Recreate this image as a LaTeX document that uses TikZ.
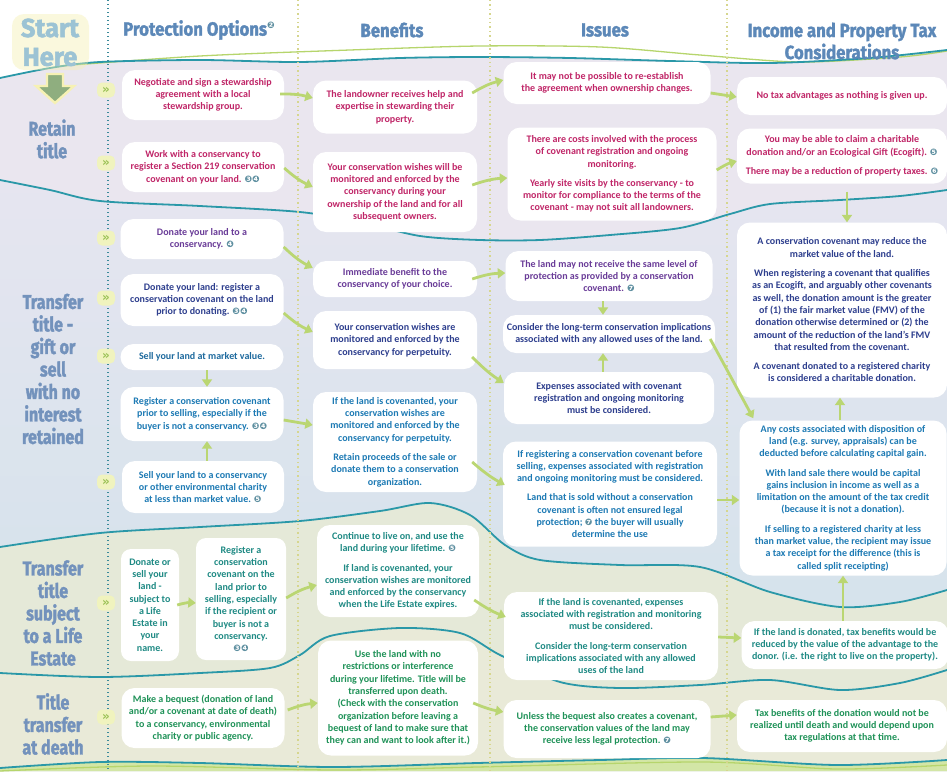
\documentclass[tikz,border=0pt]{standalone}
\usepackage{fontspec}
\setmainfont{Carlito}
\newfontfamily\headfont[FakeStretch=0.88,FakeBold=1.6]{Fira Sans}
\newfontfamily\rowfont[FakeStretch=0.8,FakeBold=1.6]{Fira Sans}
\newfontfamily\startfont[FakeStretch=0.98,FakeBold=2]{Fira Sans}
\newfontfamily\symfont{DejaVu Sans}
\usetikzlibrary{arrows.meta,calc}
\definecolor{retc}{HTML}{EAE6EF}
\definecolor{trtop}{HTML}{E6E5F0}
\definecolor{trbot}{HTML}{CFE2EA}
\definecolor{lifec}{HTML}{E5E9D8}
\definecolor{deathc}{HTML}{E9EAD8}
\definecolor{botc}{HTML}{D3E6A6}
\definecolor{wavec}{HTML}{2A98A8}
\definecolor{greenl}{HTML}{B6D56C}
\definecolor{arrowc}{HTML}{BAD672}
\definecolor{headc}{HTML}{5C88B8}
\definecolor{rowc}{HTML}{7392BC}
\definecolor{startc}{HTML}{9CC3D4}
\definecolor{glowc}{HTML}{F6F1B4}
\definecolor{startarrow}{HTML}{8FAE7F}
\definecolor{cnc}{HTML}{5E8FA0}
\definecolor{cret}{HTML}{C02668}
\definecolor{cpur}{HTML}{6A3C98}
\definecolor{cnavy}{HTML}{2E3F8E}
\definecolor{cmid}{HTML}{1E6A9E}
\definecolor{cblue}{HTML}{1D7AB4}
\definecolor{clife}{HTML}{1F8A84}
\definecolor{cdeath}{HTML}{1F9258}
\definecolor{markbg}{HTML}{F0F3BE}
\definecolor{markc}{HTML}{9CC257}
\definecolor{dotc}{HTML}{D6D68E}
\definecolor{tdotc}{HTML}{3A8A9A}
\newcommand\bodyfs{\fontsize{10}{12.3}\selectfont}
\newcommand\cn[1]{{\symfont\fontsize{9}{9}\selectfont\color{cnc}#1}}
\newcommand\gap{\\[7pt]}
\tikzset{
  box/.style 2 args={fill=white, rounded corners=13pt, inner sep=0pt, align=center,
    font=\bodyfs\bfseries, minimum width=#1pt, minimum height=#2pt},
  garrow/.style={draw=arrowc, line width=2.8pt, -{Triangle[width=10pt,length=7.5pt]}},
  mk/.style={fill=markbg, rounded corners=5pt, minimum width=18pt, minimum height=15pt,
    inner sep=0pt, text=markc, font=\symfont\bfseries\fontsize{12}{12}\selectfont},
  wave/.style={draw=wavec, line width=1.8pt},
  gwave/.style={draw=greenl, line width=1.3pt},
  colhead/.style={text=headc, font=\headfont\bfseries\fontsize{19}{22}\selectfont, align=center, inner sep=0pt},
  rowlab/.style={text=rowc, font=\rowfont\bfseries\fontsize{20}{22.5}\selectfont, align=center, inner sep=0pt},
  startlab/.style={text=startc, font=\startfont\bfseries\fontsize{26}{26}\selectfont, inner sep=0pt},
}
\begin{document}
\begin{tikzpicture}[x=1pt,y=-1pt]
\useasboundingbox (0,0) rectangle (947,771);
\fill[white] (0,0) rectangle (947,771);
% ---------- bands ----------
\fill[retc] plot[smooth] coordinates {(0,78) (50,68) (100,62) (200,60) (300,62) (400,58) (480,57) (570,58) (670,61) (770,63) (870,58) (947,50)} -- (947,771) -- (0,771) -- cycle;
\shade[top color=trtop, bottom color=trbot] plot[smooth] coordinates {(0,180) (50,190) (100,201) (200,206) (300,212) (360,222) (420,236) (480,240) (540,240) (610,235) (680,228) (730,214) (770,204) (840,200) (900,196) (947,190)} -- (947,771) -- (0,771) -- cycle;
\fill[lifec] plot[smooth] coordinates {(0,547) (100,533) (200,527) (300,521) (380,511) (430,503) (470,515) (505,545) (540,560) (620,565) (700,567) (770,592) (840,607) (900,602) (947,590)} -- (947,771) -- (0,771) -- cycle;
\fill[deathc] plot[smooth] coordinates {(0,673) (100,677) (200,673) (270,668) (300,655) (330,636) (400,628) (460,633) (500,655) (560,682) (620,688) (700,685) (770,680) (840,690) (900,683) (947,670)} -- (947,771) -- (0,771) -- cycle;
\fill[botc] plot[smooth] coordinates {(0,768) (100,762) (200,763) (333,767) (477,763) (600,760) (703,758) (837,765) (947,760)} -- (947,771) -- (0,771) -- cycle;
% ---------- wavy lines ----------
\draw[gwave] plot[smooth] coordinates {(60,66) (200,56) (350,50) (480,46) (600,47) (700,55) (800,62) (900,57) (947,51)};
\draw[wave] plot[smooth] coordinates {(0,78) (50,68) (100,62) (200,60) (300,62) (400,58) (480,57) (570,58) (670,61) (770,63) (870,58) (947,50)};
\draw[wave] plot[smooth] coordinates {(0,180) (50,190) (100,201) (200,206) (300,212) (360,222) (420,236) (480,240) (540,240) (610,235) (680,228) (730,214) (770,204) (840,200) (900,196) (947,190)};
\draw[wave] plot[smooth] coordinates {(0,547) (100,533) (200,527) (300,521) (380,511) (430,503) (470,515) (505,545) (540,560) (620,565) (700,567) (770,592) (840,607) (900,602) (947,590)};
\draw[wave] plot[smooth] coordinates {(0,673) (100,677) (200,673) (270,668) (300,655) (330,636) (400,628) (460,633) (500,655) (560,682) (620,688) (700,685) (770,680) (840,690) (900,683) (947,670)};
\draw[wave] plot[smooth] coordinates {(0,768) (100,762) (200,763) (333,767) (477,763) (600,760) (703,758) (837,765) (947,760)};
\draw[gwave] plot[smooth] coordinates {(0,771) (150,766) (333,770) (477,767) (703,762) (837,769) (947,765)};
% ---------- column dividers ----------
\draw[tdotc, line width=1.6pt, dash pattern=on 1.4pt off 2.6pt] (108,0) -- (108,771);
\foreach \xx in {298,490,727} \draw[dotc, line width=1.3pt, dash pattern=on 1.4pt off 3pt] (\xx,0) -- (\xx,771);
% ---------- headers ----------
\fill[glowc, opacity=0.45, rounded corners=12pt] (12,14) rectangle (89,70);
\node[startlab] (start) at (50,28) {Start};
\node[startlab] (here) at (50,57) {Here};
\fill[fill=startarrow, draw=glowc, line width=2.4pt] (47,74) -- (63,74) -- (63,86) -- (74,86) -- (55,103) -- (36,86) -- (47,86) -- cycle;
\node[colhead] (hpo) at (199,30) {Protection Options\raisebox{7pt}{\cn{❷}}};
\node[colhead] (hbe) at (392,30) {Benefits};
\node[colhead] (his) at (605,30) {Issues};
\node[colhead] (hin) at (842,41) {Income and Property Tax\\Considerations};
% ---------- row labels ----------
\node[rowlab] (r1) at (52,139) {Retain\\title};
\node[rowlab] (r2) at (53,369) {Transfer\\title -\\gift or\\sell\\with no\\interest\\retained};
\node[rowlab] (r3) at (53,613) {Transfer\\title\\subject\\to a Life\\Estate};
\node[rowlab] (r4) at (53,724) {Title\\transfer\\at death};
% ---------- markers ----------
\foreach \n/\yy in {1/90,2/163,3/238,4/298,5/356,6/482,7/603,8/717}
  \node[mk] (m\n) at (106,\yy) {»};
% ---------- Retain title ----------
\node[box={162}{50}, text=cret] (P1) at (203,95) {Negotiate and sign a stewardship\\agreement with a local\\stewardship group.};
\node[box={164}{53}, text=cret] (B1) at (395,107) {The landowner receives help and\\expertise in stewarding their\\property.};
\node[box={207}{42}, text=cret] (I1) at (607,83) {It may not be possible to re-establish\\the agreement when ownership changes.};
\node[box={210}{38}, text=cret] (T1) at (842,96) {No tax advantages as nothing is given up.};
\node[box={162}{50}, text=cret] (P2) at (203,167) {Work with a conservancy to\\register a Section 219 conservation\\covenant on your land. \cn{❸❹}};
\node[box={164}{80}, text=cret] (B2) at (395,192) {Your conservation wishes will be\\monitored and enforced by the\\conservancy during your\\ownership of the land and for all\\subsequent owners.};
\node[box={209}{93}, text=cret] (I2) at (612,174) {There are costs involved with the process\\of covenant registration and ongoing\\monitoring.\gap Yearly site visits by the conservancy - to\\monitor for compliance to the terms of the\\covenant - may not suit all landowners.};
\node[box={210}{55}, text=cret] (T2) at (842,156) {You may be able to claim a charitable\\donation and/or an Ecological Gift (Ecogift). \cn{❺}\gap There may be a reduction of property taxes. \cn{❻}};
% ---------- Transfer title ----------
\node[box={163}{40}, text=cpur] (P3) at (202,239) {Donate your land to a\\conservancy. \cn{❹}};
\node[box={164}{36}, text=cpur] (B3) at (395,279) {Immediate benefit to the\\conservancy of your choice.};
\node[box={207}{50}, text=cpur] (I3) at (609,276) {The land may not receive the same level of\\protection as provided by a conservation\\covenant. \cn{❼}};
\node[box={210}{175}, text=cnavy] (T3) at (842,310) {A conservation covenant may reduce the\\market value of the land.\gap When registering a covenant that qualifies\\as an Ecogift, and arguably other covenants\\as well, the donation amount is the greater\\of (1) the fair market value (FMV) of the\\donation otherwise determined or (2) the\\amount of the reduction of the land's FMV\\that resulted from the covenant.\gap A covenant donated to a registered charity\\is considered a charitable donation.};
\node[box={163}{52}, text=cnavy] (P4) at (202,300) {Donate your land: register a\\conservation covenant on the land\\prior to donating. \cn{❸❹}};
\node[box={164}{58}, text=cnavy] (B4) at (395,340) {Your conservation wishes are\\monitored and enforced by the\\conservancy for perpetuity.};
\node[box={212}{38}, text=cnavy] (I4) at (609,334) {Consider the long-term conservation implications\\associated with any allowed uses of the land.};
\node[box={163}{26}, text=cmid] (P5) at (202,357) {Sell your land at market value.};
\node[box={210}{52}, text=cnavy] (I5) at (609,398) {Expenses associated with covenant\\registration and ongoing monitoring\\must be considered.};
\node[box={163}{54}, text=cblue] (P6) at (202,414) {Register a conservation covenant\\prior to selling, especially if the\\buyer is not a conservancy. \cn{❸❹}};
\node[box={164}{100}, text=cblue] (B5) at (395,442) {If the land is covenanted, your\\conservation wishes are\\monitored and enforced by the\\conservancy for perpetuity.\gap Retain proceeds of the sale or\\donate them to a conservation\\organization.};
\node[box={214}{105}, text=cblue] (I6) at (610,494) {If registering a conservation covenant before\\selling, expenses associated with registration\\and ongoing monitoring must be considered.\gap Land that is sold without a conservation\\covenant is often not ensured legal\\protection; \cn{❼} the buyer will usually\\determine the use};
\node[box={207}{155}, text=cblue] (T4) at (843,498) {Any costs associated with disposition of\\land (e.g. survey, appraisals) can be\\deducted before calculating capital gain.\gap With land sale there would be capital\\gains inclusion in income as well as a\\limitation on the amount of the tax credit\\(because it is not a donation).\gap If selling to a registered charity at less\\than market value, the recipient may issue\\a tax receipt for the difference (this is\\called split receipting)};
\node[box={162}{52}, text=cblue] (P7) at (203,487) {Sell your land to a conservancy\\or other environmental charity\\at less than market value. \cn{❺}};
% ---------- Life Estate ----------
\node[box={58}{112}, text=clife, rounded corners=10pt] (P8) at (150,605) {Donate or\\sell your\\land -\\subject to\\a Life\\Estate in\\your\\name.};
\node[box={90}{122}, text=clife, rounded corners=10pt] (P9) at (241,599) {Register a\\conservation\\covenant on the\\land prior to\\selling, especially\\if the recipient or\\buyer is not a\\conservancy.\\\cn{❸❹}};
\node[box={162}{92}, text=clife] (B6) at (398,571) {Continue to live on, and use the\\land during your lifetime. \cn{❺}\gap If land is covenanted, your\\conservation wishes are monitored\\and enforced by the conservancy\\when the Life Estate expires.};
\node[box={214}{88}, text=clife] (I7) at (611,636) {If the land is covenanted, expenses\\associated with registration and monitoring\\must be considered.\gap Consider the long-term conservation\\implications associated with any allowed\\uses of the land};
\node[box={207}{48}, text=clife] (T5) at (845,645) {If the land is donated, tax benefits would be\\reduced by the value of the advantage to the\\donor. (i.e. the right to live on the property).};
% ---------- Title transfer at death ----------
\node[box={163}{60}, text=cdeath] (P10) at (203,718) {Make a bequest (donation of land\\and/or a covenant at date of death)\\to a conservancy, environmental\\charity or public agency.};
\node[box={160}{115}, text=cdeath] (B7) at (398,698) {Use the land with no\\restrictions or interference\\during your lifetime. Title will be\\transferred upon death.\\(Check with the conservation\\organization before leaving a\\bequest of land to make sure that\\they can and want to look after it.)};
\node[box={207}{58}, text=cdeath] (I8) at (607,729) {Unless the bequest also creates a covenant,\\the conservation values of the land may\\receive less legal protection. \cn{❼}};
\node[box={210}{52}, text=cdeath] (T6) at (842,726) {Tax benefits of the donation would not be\\realized until death and would depend upon\\tax regulations at that time.};
% ---------- connectors ----------
\draw[garrow] ($(P1.east)+(-4,-1)$) to[bend left=8] ($(B1.west)+(0,-9)$);
\draw[garrow] ($(B1.east)+(-5,-14)$) to[bend left=8] ($(I1.west)+(0,-3)$);
\draw[garrow] ($(I1.east)+(0,10)$) -- ($(T1.west)+(0,1)$);
\draw[garrow] ($(P2.east)+(0,1)$) to[bend right=8] ($(B2.west)+(0,-5)$);
\draw[garrow] ($(B2.east)+(-5,-7)$) to[bend left=8] ($(I2.west)+(0,4)$);
\draw[garrow] ($(I2.east)+(0,-4)$) to[bend left=8] ($(T2.west)+(0,5)$);
\draw[garrow] ($(T2.south)+(5,8)$) -- ($(T3.north)+(5,0)$);
\draw[garrow] ($(P3.east)+(0,8)$) to[bend right=8] ($(B3.west)+(0,-11)$);
\draw[garrow] ($(P4.east)+(0,13)$) to[bend right=8] ($(B4.west)+(0,-8)$);
\draw[garrow] ($(B3.east)+(-5,0)$) to[bend left=8] ($(I3.west)+(0,-3)$);
\draw[garrow] ($(B4.east)+(-5,17)$) to[bend right=6] ($(I5.west)+(0,-15)$);
\draw[garrow] ($(I3.south)+(-6,0)$) -- ($(I4.north)+(-6,0)$);
\draw[garrow] ($(I5.north)+(-6,0)$) -- ($(I4.south)+(-6,0)$);
\draw[garrow] ($(I4.east)+(-5,5)$) -- ($(T4.north west)+(14,-2)$);
\draw[garrow] ($(T4.north)+(-3,0)$) -- ($(T3.south)+(-2,0)$);
\draw[garrow] ($(P5.south)+(5,0)$) -- ($(P6.north)+(5,0)$);
\draw[garrow] ($(P7.north)+(4,0)$) -- ($(P6.south)+(5,0)$);
\draw[garrow] ($(P6.east)+(0,6)$) -- ($(B5.west)+(0,-17)$);
\draw[garrow] ($(B5.east)+(-5,20)$) to[bend right=6] ($(I6.west)+(2,-9)$);
\draw[garrow] ($(I6.east)+(0,6)$) -- ($(T4.west)+(0,2)$);
\draw[garrow] ($(P8.east)+(-2,0)$) to[bend left=10] ($(P9.west)+(0,4)$);
\draw[garrow] ($(P9.east)+(0,-1)$) to[bend left=8] ($(B6.west)+(0,14)$);
\draw[garrow] ($(B6.east)+(-5,29)$) to[bend right=6] ($(I7.west)+(2,-19)$);
\draw[garrow] ($(I7.east)+(0,1)$) -- ($(T5.west)+(0,-7)$);
\draw[garrow] ($(T5.north)+(-2,0)$) -- ($(T4.south)+(0,0)$);
\draw[garrow] ($(P10.east)+(3,-8)$) to[bend left=8] ($(B7.west)+(0,5)$);
\draw[garrow] ($(B7.east)+(-5,5)$) to[bend right=6] ($(I8.west)+(0,-17)$);
\draw[garrow] ($(I8.east)+(0,-12)$) -- ($(T6.west)+(0,-11)$);
\end{tikzpicture}
\end{document}
